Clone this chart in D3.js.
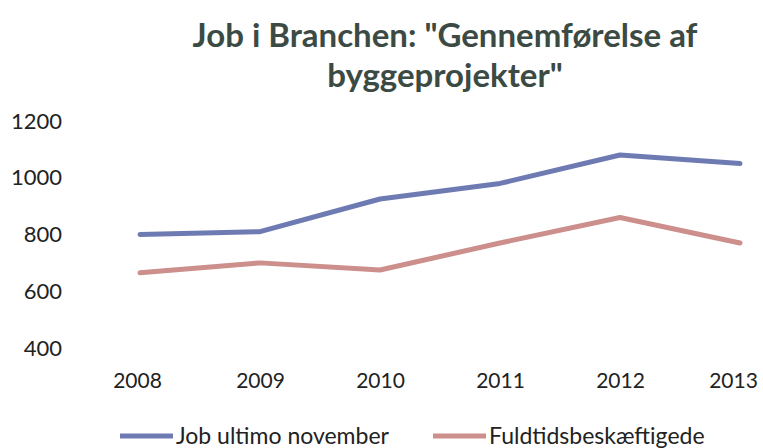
<!DOCTYPE html>
<html>
<head>
<meta charset="utf-8">
<script src="https://cdn.jsdelivr.net/npm/d3@7"></script>
<style>
  body { margin: 0; background: #fff; }
  text { font-family: Lato, "Open Sans", sans-serif; }
</style>
</head>
<body>
<div id="chart"></div>
<script>
// data
const years = ["2008", "2009", "2010", "2011", "2012", "2013"];
const jobUltimo = [800, 810, 925, 980, 1080, 1050];
const fuldtids = [665, 700, 675, 770, 860, 770];
const yTicks = [400, 600, 800, 1000, 1200];
const titleLines = ['Job i Branchen: "Gennemførelse af', 'byggeprojekter"'];
const seriesNames = ["Job ultimo november", "Fuldtidsbeskæftigede"];

const W = 763, H = 448;
const svg = d3.select("#chart").append("svg")
  .attr("width", W).attr("height", H);

const x = d3.scalePoint().domain(years).range([140, 740]);
const y = d3.scaleLinear().domain([400, 1200]).range([348, 121]);

// title
svg.append("g").selectAll("text")
  .data(titleLines).enter().append("text")
  .attr("x", 445)
  .attr("y", (d, i) => 47 + i * 40)
  .attr("text-anchor", "middle")
  .attr("font-size", 33)
  .attr("font-weight", "700")
  .attr("fill", "#3c4a44")
  .text(d => d);

// y axis (labels only)
const yAxis = svg.append("g")
  .attr("transform", "translate(62,0)")
  .call(d3.axisLeft(y).tickValues(yTicks).tickFormat(d3.format("d")).tickSize(0).tickPadding(0));
yAxis.select(".domain").remove();
yAxis.selectAll("text")
  .attr("font-size", 22)
  .attr("fill", "#222")
  .attr("font-family", "Lato, sans-serif");

// x axis (labels only)
const xAxis = svg.append("g")
  .attr("transform", "translate(0,373)")
  .call(d3.axisBottom(x).tickSize(0).tickPadding(0));
xAxis.select(".domain").remove();
xAxis.selectAll("text")
  .attr("font-size", 21)
  .attr("fill", "#222")
  .attr("font-family", "Lato, sans-serif")
  .attr("dx", (d, i) => i === 0 ? -3 : (i === years.length - 1 ? -7 : 0));

const series = [
  { name: seriesNames[0], values: jobUltimo, color: "#6e7bb3" },
  { name: seriesNames[1], values: fuldtids, color: "#cc8f8c" }
];

const line = d3.line()
  .x((d, i) => x(years[i]))
  .y(d => y(d));

svg.append("g").selectAll("path")
  .data(series).enter().append("path")
  .attr("d", d => line(d.values))
  .attr("fill", "none")
  .attr("stroke", d => d.color)
  .attr("stroke-width", 5)
  .attr("stroke-linejoin", "round")
  .attr("stroke-linecap", "round");

// legend
const legendX = [120, 433];
const leg = svg.append("g").selectAll("g")
  .data(series).enter().append("g")
  .attr("transform", (d, i) => `translate(${legendX[i]},436)`);
leg.append("line")
  .attr("x1", 0).attr("x2", 53)
  .attr("y1", 0).attr("y2", 0)
  .attr("stroke", d => d.color)
  .attr("stroke-width", 5);
leg.append("text")
  .attr("x", 56)
  .attr("y", 8)
  .attr("font-size", 23)
  .attr("fill", "#222")
  .text(d => d.name);
</script>
</body>
</html>
